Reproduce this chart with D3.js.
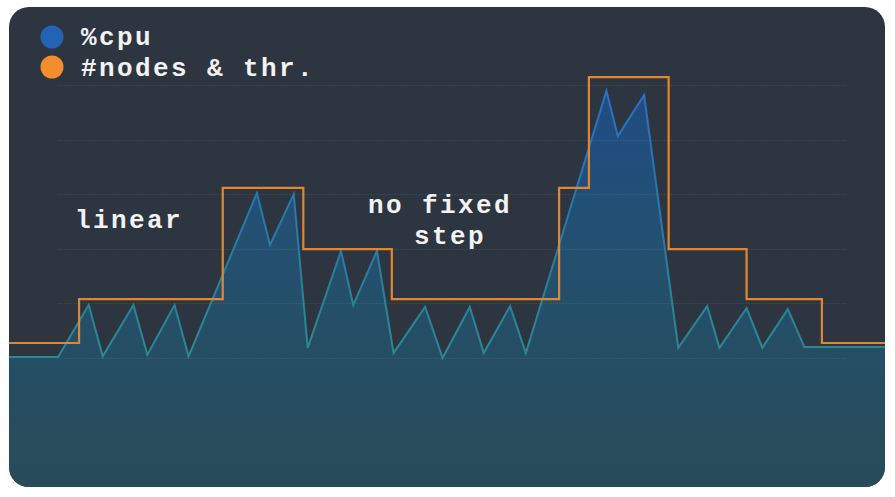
<!DOCTYPE html>
<html>
<head>
<meta charset="utf-8">
<script src="https://cdn.jsdelivr.net/npm/d3@7"></script>
<style>
  html, body { margin: 0; padding: 0; background: #fff; }
  svg { display: block; }
  .lbl { font-family: "Liberation Mono", "Courier New", monospace; font-weight: bold; fill: #f2f2f2;
         font-size: 26px; letter-spacing: 2.4px; }
</style>
</head>
<body>
<svg id="chart" width="895" height="497"></svg>
<script>
// cpu samples (time, %cpu) - irregular time step
var cpuTime = [0, 5.6, 9.1, 10.7, 14.2, 15.8, 18.9, 20.5, 28.3, 29.8, 32.5, 34.1,
  37.9, 39.3, 42.0, 43.9, 47.5, 49.5, 52.6, 54.2, 57.2, 59.0, 68.2, 69.5, 72.5,
  76.4, 79.7, 81.1, 84.2, 86.0, 88.9, 90.8, 100];
var cpuValue = [0.4, 0.4, 19.4, 0.6, 19.4, 1.2, 19.4, 0.6, 60.4, 41.4, 60, 3.7,
  39.2, 19.4, 39.2, 1.8, 18.7, 0, 18.7, 1.8, 19, 1.8, 97.8, 81.3, 96.3,
  3.7, 19, 3.7, 18.3, 3.7, 17.9, 4.0, 4.0];

// node count threshold, changes at these times
var stepTime = [0, 8.0, 24.4, 33.6, 43.7, 62.8, 66.2, 75.3, 84.2, 92.8, 100];
var stepValue = [5.5, 21.6, 62.3, 39.9, 21.6, 62.3, 102.9, 39.9, 21.6, 5.5, 5.5];

var gridTicks = [0, 20, 40, 60, 80, 100];

var legendNames = ["%cpu", "#nodes & thr."];
var legendColors = ["#2462b6", "#f58d2d"];

var svg = d3.select("#chart");
var card = { x: 9, y: 7, w: 876, h: 480, r: 20 };

var x = d3.scaleLinear().domain([0, 100]).range([card.x, card.x + card.w]);
var y = d3.scaleLinear().domain([0, 100]).range([358, 85]);

var defs = svg.append("defs");
defs.append("clipPath").attr("id", "cardClip")
  .append("rect")
  .attr("x", card.x).attr("y", card.y)
  .attr("width", card.w).attr("height", card.h)
  .attr("rx", card.r);

var fillGrad = defs.append("linearGradient").attr("id", "fillGrad")
  .attr("gradientUnits", "userSpaceOnUse")
  .attr("x1", 0).attr("x2", 0).attr("y1", 85).attr("y2", 487);
fillGrad.append("stop").attr("offset", "0%").attr("stop-color", "#1f4d84");
fillGrad.append("stop").attr("offset", "45%").attr("stop-color", "#24506e");
fillGrad.append("stop").attr("offset", "100%").attr("stop-color", "#274b57");

var lineGrad = defs.append("linearGradient").attr("id", "lineGrad")
  .attr("gradientUnits", "userSpaceOnUse")
  .attr("x1", 0).attr("x2", 0).attr("y1", 85).attr("y2", 360);
lineGrad.append("stop").attr("offset", "0%").attr("stop-color", "#2b6fc6");
lineGrad.append("stop").attr("offset", "55%").attr("stop-color", "#2a7aa6");
lineGrad.append("stop").attr("offset", "100%").attr("stop-color", "#2a8a8e");

// card background
svg.append("rect")
  .attr("x", card.x).attr("y", card.y)
  .attr("width", card.w).attr("height", card.h)
  .attr("rx", card.r)
  .attr("fill", "#2d3540");

var plot = svg.append("g").attr("clip-path", "url(#cardClip)");

var cpuData = cpuTime.map(function(t, i) { return { t: t, v: cpuValue[i] }; });
var stepData = stepTime.map(function(t, i) { return { t: t, v: stepValue[i] }; });

var area = d3.area()
  .x(function(d) { return x(d.t); })
  .y0(card.y + card.h + 5)
  .y1(function(d) { return y(d.v); });

plot.append("path")
  .datum(cpuData)
  .attr("d", area)
  .attr("fill", "url(#fillGrad)");

// grid lines on top of the fill
plot.append("g")
  .selectAll("line")
  .data(gridTicks)
  .join("line")
  .attr("x1", 58).attr("x2", 846)
  .attr("y1", function(d) { return Math.round(y(d)) + 0.5; })
  .attr("y2", function(d) { return Math.round(y(d)) + 0.5; })
  .attr("stroke", "#ffffff")
  .attr("stroke-opacity", 0.07)
  .attr("stroke-dasharray", "2,1");

var line = d3.line()
  .x(function(d) { return x(d.t); })
  .y(function(d) { return y(d.v); });

plot.append("path")
  .datum(cpuData)
  .attr("d", line)
  .attr("fill", "none")
  .attr("stroke", "url(#lineGrad)")
  .attr("stroke-width", 2)
  .attr("stroke-linejoin", "miter");

var stepLine = d3.line()
  .curve(d3.curveStepAfter)
  .x(function(d) { return x(d.t); })
  .y(function(d) { return y(d.v); });

plot.append("path")
  .datum(stepData)
  .attr("d", stepLine)
  .attr("fill", "none")
  .attr("stroke", "#e4862e")
  .attr("stroke-width", 2.2);

// legend
var legend = svg.append("g");
legendNames.forEach(function(name, i) {
  legend.append("circle")
    .attr("cx", 52).attr("cy", 37 + i * 30)
    .attr("r", 11.5)
    .attr("fill", legendColors[i]);
  legend.append("text")
    .attr("class", "lbl")
    .attr("x", 81).attr("y", 45 + i * 31)
    .text(name);
});

// annotations
svg.append("text").attr("class", "lbl")
  .attr("x", 75).attr("y", 228)
  .text("linear");
svg.append("text").attr("class", "lbl")
  .attr("x", 368).attr("y", 213)
  .text("no fixed");
svg.append("text").attr("class", "lbl")
  .attr("x", 414).attr("y", 244)
  .text("step");
</script>
</body>
</html>
